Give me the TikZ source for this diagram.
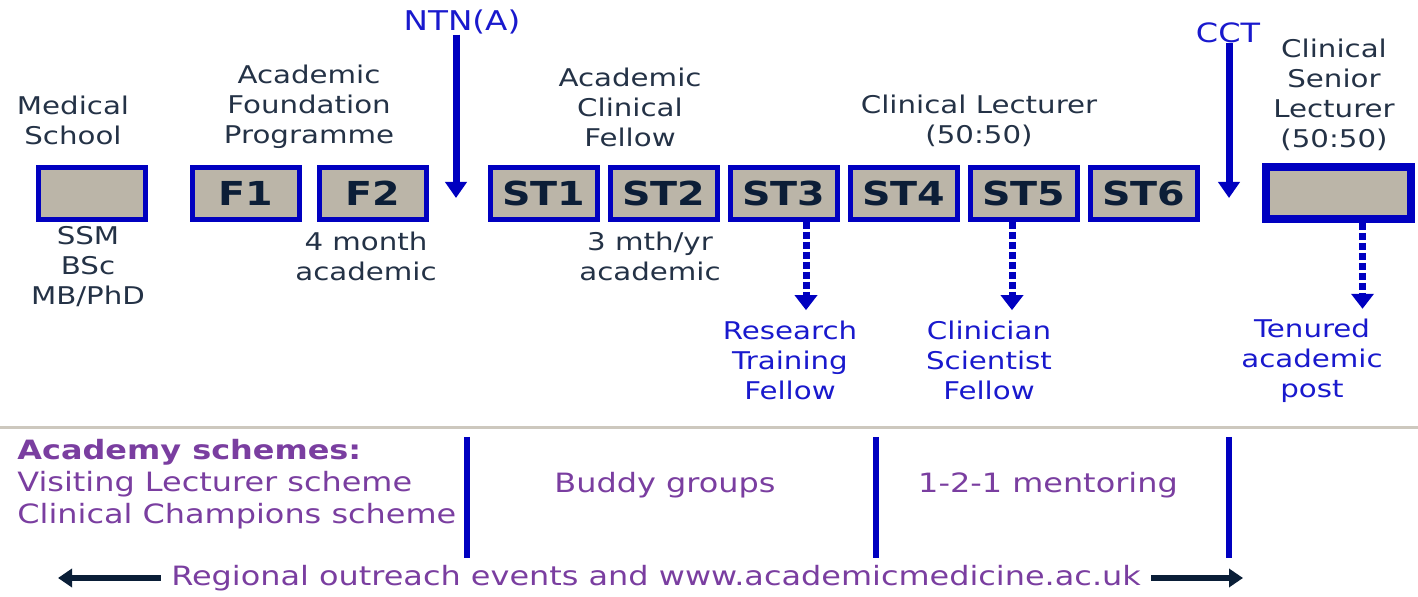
\documentclass[tikz,border=0pt]{standalone}
\usepackage{fontspec}
\setmainfont{DejaVu Sans}[FakeStretch=1.2]
\usetikzlibrary{arrows.meta}

\definecolor{boxblue}{RGB}{0,0,192}
\definecolor{boxfill}{RGB}{187,181,168}
\definecolor{boxtext}{RGB}{12,30,55}
\definecolor{lblgray}{RGB}{36,50,70}
\definecolor{linkblue}{RGB}{25,25,205}
\definecolor{schemepurple}{RGB}{122,62,160}
\definecolor{arrownavy}{RGB}{10,30,55}
\definecolor{sepgray}{RGB}{205,200,190}

\begin{document}
\begin{tikzpicture}[x=0.5pt,y=-0.5pt,
    stage/.style={draw=boxblue, line width=2.5pt, fill=boxfill, minimum width=53.5pt, minimum height=26pt, inner sep=0pt, text=boxtext, font=\fontsize{16.5}{16.5}\selectfont\bfseries},
    lbl/.style={align=center, inner sep=0pt, text=lblgray, font=\fontsize{12.2}{15}\selectfont},
    goal/.style={lbl, text=linkblue},
    scheme/.style={inner sep=0pt, text=schemepurple, font=\fontsize{13.3}{16}\selectfont},
    solidarrow/.style={draw=boxblue, line width=3.5pt, -{Triangle[width=10.5pt,length=8pt]}},
    dotarrow/.style={draw=boxblue, line width=3.5pt, dash pattern=on 3.5pt off 1.5pt, -{Triangle[width=11pt,length=7.5pt]}},
    outreach/.style={draw=arrownavy, line width=2.8pt, -{Triangle[width=9pt,length=7pt]}}]
    \useasboundingbox (0,0) rectangle (1418,597);

    % stages of training
    \node[stage] (med) at (92,193.5) {};
    \node[stage] (f1) at (246,193.5) {F1};
    \node[stage] (f2) at (372.5,193.5) {F2};
    \foreach \i in {1,...,6}
        \node[stage] (st\i) at ({544+120*(\i-1)},193.5) {ST\i};
    \node[stage, line width=4pt, minimum width=72.5pt] (csl) at (1338.5,193) {};

    % labels above
    \node[lbl] (medlbl) at (73,120) {Medical\\School};
    \node[lbl] (afp) at (309,107) {Academic\\Foundation\\Programme};
    \node[lbl] (acf) at (630,107) {Academic\\Clinical\\Fellow};
    \node[lbl] (cl) at (979,121) {Clinical Lecturer\\(50:50)};
    \node[lbl] (csllbl) at (1334,95) {Clinical\\Senior\\Lecturer\\(50:50)};

    % labels below
    \node[lbl] (ssm) at (88,267) {SSM\\BSc\\MB/PhD};
    \node[lbl] (fourmonth) at (366,256) {4 month\\academic};
    \node[lbl] (threemth) at (650,256) {3 mth/yr\\academic};

    % entry points
    \node[goal, font=\fontsize{13.6}{15}\selectfont] (ntn) at (462,22) {NTN(A)};
    \node[goal, font=\fontsize{13.3}{15}\selectfont] (cct) at (1228,33) {CCT};
    \coordinate (ntntip) at (456,198);
    \coordinate (ccttip) at (1229,198);
    \draw[solidarrow] (ntntip |- ntn.south) -- (ntntip);
    \draw[solidarrow] (ccttip |- cct.south) -- (ccttip);

    % fellowships
    \node[goal] (rtf) at (790,360) {Research\\Training\\Fellow};
    \node[goal] (csf) at (989,360) {Clinician\\Scientist\\Fellow};
    \node[goal] (tap) at (1312,361) {Tenured\\academic\\post};
    \draw[dotarrow, shorten >=5pt] ([xshift=11pt]st3.south) -- ([xshift=11pt]st3.south |- rtf.north);
    \draw[dotarrow, shorten >=5pt] ([xshift=-6pt]st5.south) -- ([xshift=-6pt]st5.south |- csf.north);
    \draw[dotarrow, shorten >=5pt] ([xshift=12pt]csl.south) -- ([xshift=12pt]csl.south |- tap.north);

    % academy schemes
    \draw[sepgray, line width=1.5pt] (0,428) -- (1418,428);
    \foreach \x in {467,876,1229}
        \draw[boxblue, line width=3pt] (\x,437) -- (\x,558);
    \node[scheme, align=left, anchor=west] (acad) at (17,484) {\textbf{Academy schemes:}\\Visiting Lecturer scheme\\Clinical Champions scheme};
    \node[scheme] (buddy) at (665,485) {Buddy groups};
    \node[scheme] (mentor) at (1048,485) {1-2-1 mentoring};

    \node[scheme, inner xsep=5pt] (reg) at (656,578) {Regional outreach events and www.academicmedicine.ac.uk};
    \coordinate (lefttip) at (58,578);
    \coordinate (righttip) at (1243,578);
    \draw[outreach] (reg.west) -- (lefttip);
    \draw[outreach] (reg.east) -- (righttip);
\end{tikzpicture}
\end{document}
